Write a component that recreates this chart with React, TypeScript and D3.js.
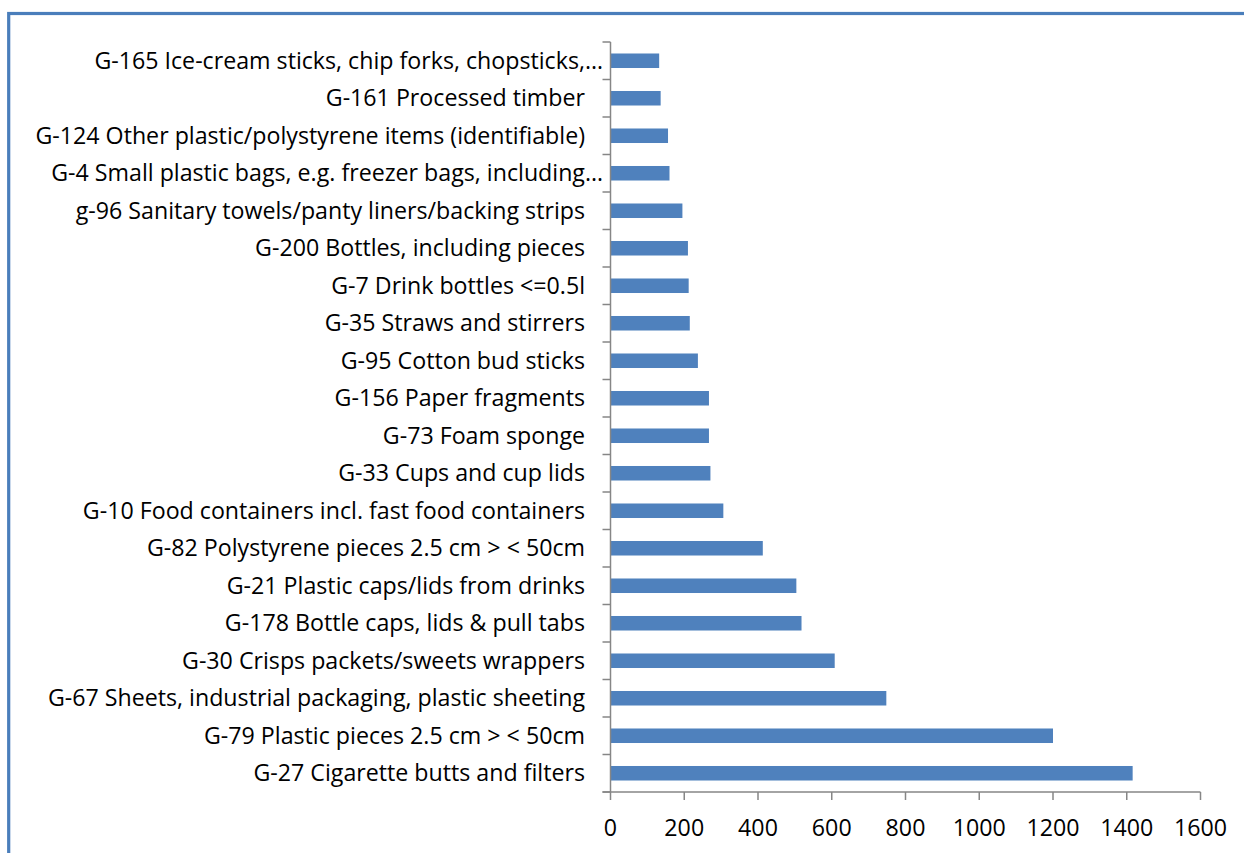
import React from "react";
import * as d3 from "d3";

const categories: string[] = [
  "G-165 Ice-cream sticks, chip forks, chopsticks,…",
  "G-161 Processed timber",
  "G-124 Other plastic/polystyrene items (identifiable)",
  "G-4 Small plastic bags, e.g. freezer bags, including…",
  "g-96 Sanitary towels/panty liners/backing strips",
  "G-200 Bottles, including pieces",
  "G-7 Drink bottles <=0.5l",
  "G-35 Straws and stirrers",
  "G-95 Cotton bud sticks",
  "G-156 Paper fragments",
  "G-73 Foam sponge",
  "G-33 Cups and cup lids",
  "G-10 Food containers incl. fast food containers",
  "G-82 Polystyrene pieces 2.5 cm > < 50cm",
  "G-21 Plastic caps/lids from drinks",
  "G-178 Bottle caps, lids & pull tabs",
  "G-30 Crisps packets/sweets wrappers",
  "G-67 Sheets, industrial packaging, plastic sheeting",
  "G-79 Plastic pieces 2.5 cm > < 50cm",
  "G-27 Cigarette butts and filters",
];

const counts: number[] = [
  132, 136, 156, 160, 195, 210, 212, 215, 237, 267, 267, 271, 306, 413, 504, 518, 608, 748, 1200, 1416,
];

const xTicks: number[] = [0, 200, 400, 600, 800, 1000, 1200, 1400, 1600];

const W = 1244;
const H = 853;
const FONT = "'Open Sans', sans-serif";
const FS = 23.2;
const AXIS = "#868686";
const BAR = "#4f81bd";

export default function App() {
  const x = d3.scaleLinear().domain([0, 1600]).range([610.5, 1200.5]);
  const y = d3
    .scaleBand<string>()
    .domain(categories)
    .range([42, 792])
    .paddingInner(0.613)
    .paddingOuter(0.3065);
  const step = y.step();
  const top = 42;
  const bottom = 792;
  const bandEdges = d3.range(categories.length + 1).map((k) => top + step * k);

  return (
    <svg
      width={W}
      height={H}
      style={{ position: "absolute", left: 0, top: 0, background: "#fff" }}
    >
      <rect x={0} y={0} width={W} height={H} fill="#fff" />
      {/* chart border */}
      <rect
        x={8.7}
        y={13.5}
        width={W + 20}
        height={H + 20}
        fill="none"
        stroke="#4a7ebb"
        strokeWidth={3.2}
      />
      {/* bars */}
      {categories.map((c, i) => (
        <rect
          key={c}
          x={x(0)}
          y={y(c)!}
          width={x(counts[i]) - x(0)}
          height={y.bandwidth()}
          fill={BAR}
        />
      ))}
      {/* y axis */}
      <line x1={x(0)} x2={x(0)} y1={top} y2={bottom} stroke={AXIS} strokeWidth={1.5} />
      {bandEdges.map((v, k) => (
        <line key={k} x1={x(0) - 8} x2={x(0)} y1={v} y2={v} stroke={AXIS} strokeWidth={1.5} />
      ))}
      {/* x axis */}
      <line x1={x(0) - 8} x2={x(1600)} y1={bottom} y2={bottom} stroke={AXIS} strokeWidth={1.5} />
      {xTicks.map((t) => (
        <g key={t}>
          <line x1={x(t)} x2={x(t)} y1={bottom} y2={bottom + 8} stroke={AXIS} strokeWidth={1.5} />
          <text
            x={x(t)}
            y={836}
            textAnchor="middle"
            fontFamily={FONT}
            fontSize={FS}
            fill="#000"
          >
            {t}
          </text>
        </g>
      ))}
      {/* category labels */}
      {categories.map((c) => (
        <text
          key={c}
          x={c.endsWith("…") ? 603 : 585}
          y={y(c)! + y.bandwidth() / 2}
          dy="0.35em"
          textAnchor="end"
          fontFamily={FONT}
          fontSize={FS}
          fill="#000"
        >
          {c}
        </text>
      ))}
    </svg>
  );
}
